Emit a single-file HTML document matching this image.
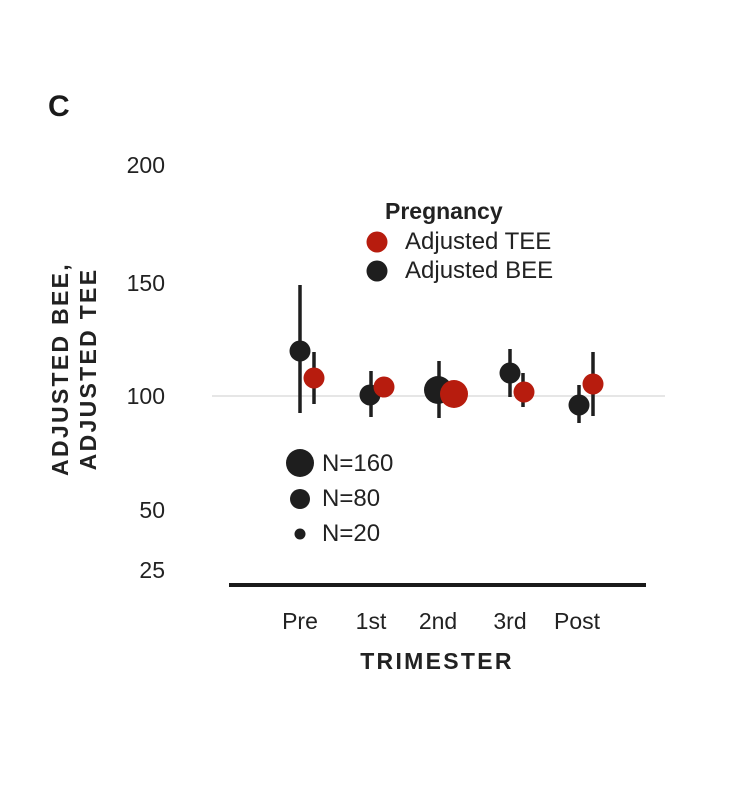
<!DOCTYPE html>
<html><head><style>body{margin:0;background:#fff}svg{display:block}</style></head><body>
<svg width="754" height="800" xmlns="http://www.w3.org/2000/svg" font-family="Liberation Sans, Arial, sans-serif">
<rect width="754" height="800" fill="#fff"/>
<text x="48" y="116" font-size="30" font-weight="bold" fill="#1a1a1a">C</text>
<g font-size="23" fill="#222" text-anchor="end">
<text x="165" y="173">200</text>
<text x="165" y="291">150</text>
<text x="165" y="404">100</text>
<text x="165" y="518">50</text>
<text x="165" y="578">25</text>
</g>
<g transform="translate(68,369) rotate(-90)" font-size="23" font-weight="bold" fill="#222" text-anchor="middle" letter-spacing="2.3">
<text x="0" y="0">ADJUSTED BEE,</text>
<text x="0" y="28">ADJUSTED TEE</text>
</g>
<line x1="212" y1="396" x2="665" y2="396" stroke="#e6e6e6" stroke-width="2"/>
<line x1="229" y1="585" x2="646" y2="585" stroke="#1a1a1a" stroke-width="4"/>
<g font-size="23" fill="#222" text-anchor="middle">
<text x="300" y="629">Pre</text>
<text x="371" y="629">1st</text>
<text x="438" y="629">2nd</text>
<text x="510" y="629">3rd</text>
<text x="577" y="629">Post</text>
</g>
<text x="437" y="669" font-size="23" font-weight="bold" fill="#222" text-anchor="middle" letter-spacing="2.3">TRIMESTER</text>
<g stroke="#1e1e1e" stroke-width="3.5">
<line x1="300" y1="285" x2="300" y2="413"/>
<line x1="314" y1="352" x2="314" y2="404"/>
<line x1="371" y1="371" x2="371" y2="417"/>
<line x1="439" y1="361" x2="439" y2="418"/>
<line x1="510" y1="349" x2="510" y2="397"/>
<line x1="523" y1="373" x2="523" y2="407"/>
<line x1="579" y1="385" x2="579" y2="423"/>
<line x1="593" y1="352" x2="593" y2="416"/>
</g>
<g fill="#1e1e1e">
<circle cx="300" cy="351" r="10.5"/>
<circle cx="370" cy="395" r="10.5"/>
<circle cx="438" cy="390" r="14"/>
<circle cx="510" cy="373" r="10.5"/>
<circle cx="579" cy="405" r="10.5"/>
</g>
<g fill="#b71c0e">
<circle cx="314" cy="378" r="10.5"/>
<circle cx="384" cy="387" r="10.5"/>
<circle cx="454" cy="394" r="14"/>
<circle cx="524" cy="392" r="10.5"/>
<circle cx="593" cy="384" r="10.5"/>
</g>
<text x="385" y="219" font-size="23" font-weight="bold" fill="#222">Pregnancy</text>
<circle cx="377" cy="242" r="10.5" fill="#b71c0e"/>
<circle cx="377" cy="271" r="10.5" fill="#1e1e1e"/>
<g font-size="24" fill="#222">
<text x="405" y="249">Adjusted TEE</text>
<text x="405" y="278">Adjusted BEE</text>
</g>
<circle cx="300" cy="463" r="14" fill="#1e1e1e"/>
<circle cx="300" cy="499" r="10" fill="#1e1e1e"/>
<circle cx="300" cy="534" r="5.5" fill="#1e1e1e"/>
<g font-size="24" fill="#222">
<text x="322" y="471">N=160</text>
<text x="322" y="506">N=80</text>
<text x="322" y="541">N=20</text>
</g>
</svg>
</body></html>
